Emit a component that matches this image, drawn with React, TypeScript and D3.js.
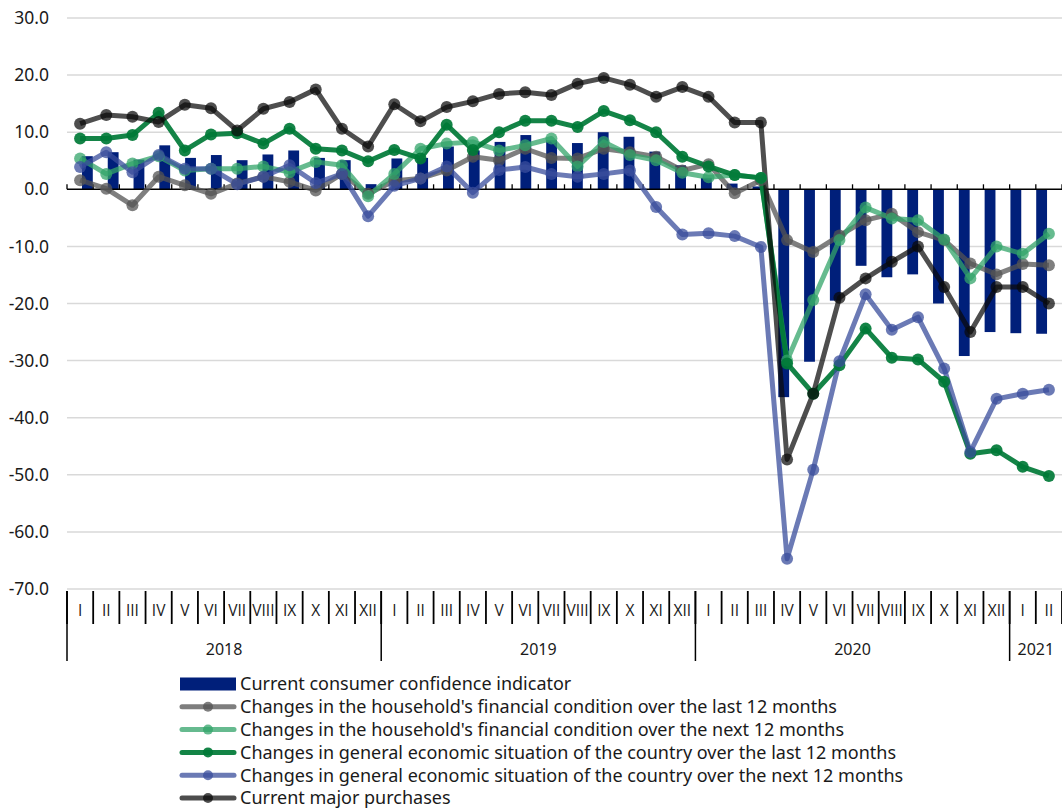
import { useMemo } from 'react';
import * as d3 from 'd3';

const romans = ['I', 'II', 'III', 'IV', 'V', 'VI', 'VII', 'VIII', 'IX', 'X', 'XI', 'XII'];
const monthLabels = [...romans, ...romans, ...romans, 'I', 'II'];
const years = [
  { label: '2018', start: 0, end: 12 },
  { label: '2019', start: 12, end: 24 },
  { label: '2020', start: 24, end: 36 },
  { label: '2021', start: 36, end: 38 },
];
const yTicks = [30, 20, 10, 0, -10, -20, -30, -40, -50, -60, -70];

const confidence = [
  5.8, 6.5, 5.2, 7.7, 5.5, 6.0, 5.1, 6.1, 6.8, 5.5, 5.1, 0.9,
  5.4, 5.5, 7.5, 6.8, 8.3, 9.5, 8.6, 8.1, 10.0, 9.2, 6.6, 4.2,
  2.0, 1.0, 0.5, -36.4, -30.2, -19.5, -13.4, -15.4, -14.9, -20.0, -29.2, -25.0,
  -25.2, -25.3,
];
const householdLast = [
  1.6, 0.1, -2.8, 2.2, 0.7, -0.8, 1.0, 2.2, 1.3, -0.2, 2.7, -0.8,
  1.5, 1.9, 3.3, 5.7, 5.1, 7.1, 5.5, 5.4, 7.1, 6.5, 5.7, 3.3,
  4.4, -0.7, 1.6, -8.9, -11.0, -8.1, -5.4, -4.3, -7.5, -8.9, -13.0, -14.9,
  -13.1, -13.3,
];
const householdNext = [
  5.4, 2.7, 4.5, 5.8, 3.3, 3.6, 3.6, 4.0, 3.0, 4.8, 4.2, -1.2,
  2.7, 7.1, 8.0, 8.3, 6.8, 7.7, 8.9, 4.0, 8.3, 6.0, 5.1, 2.9,
  2.1, 2.5, 2.0, -30.0, -19.4, -8.9, -3.2, -5.1, -5.4, -8.8, -15.6, -10.0,
  -11.3, -7.8,
];
const economyLast = [
  8.9, 8.9, 9.5, 13.4, 6.8, 9.6, 9.8, 8.0, 10.6, 7.1, 6.8, 4.9,
  6.9, 5.4, 11.3, 6.9, 10.0, 12.0, 12.0, 10.9, 13.7, 12.1, 10.0, 5.7,
  4.0, 2.5, 2.0, -30.5, -35.8, -30.8, -24.4, -29.5, -29.8, -33.7, -46.3, -45.7,
  -48.6, -50.2,
];
const economyNext = [
  3.9, 6.5, 3.0, 6.0, 3.6, 3.6, 0.9, 2.2, 4.2, 1.1, 2.7, -4.7,
  0.6, 1.9, 4.0, -0.6, 3.4, 3.9, 2.7, 2.2, 2.7, 3.3, -3.1, -7.9,
  -7.7, -8.2, -10.1, -64.7, -49.1, -30.1, -18.4, -24.6, -22.4, -31.4, -46.0, -36.7,
  -35.8, -35.1,
];
const majorPurchases = [
  11.5, 13.0, 12.7, 11.8, 14.8, 14.2, 10.3, 14.1, 15.3, 17.5, 10.6, 7.5,
  14.9, 11.9, 14.4, 15.4, 16.7, 17.0, 16.5, 18.5, 19.5, 18.3, 16.2, 17.9,
  16.2, 11.7, 11.7, -47.3, -35.8, -19.0, -15.6, -12.7, -10.0, -17.1, -25.0, -17.1,
  -17.1, -20.0,
];

const barLabel = 'Current consumer confidence indicator';
const barColor = '#001f7a';

const lineSeries = [
  { name: "Changes in the household's financial condition over the last 12 months", values: householdLast, color: '#545454', opacity: 0.75 },
  { name: "Changes in the household's financial condition over the next 12 months", values: householdNext, color: '#33a46a', opacity: 0.75 },
  { name: 'Changes in general economic situation of the country over the last 12 months', values: economyLast, color: '#007a37', opacity: 0.92 },
  { name: 'Changes in general economic situation of the country over the next 12 months', values: economyNext, color: '#3a4e9c', opacity: 0.75 },
  { name: 'Current major purchases', values: majorPurchases, color: '#0a0a0a', opacity: 0.72 },
];

const W = 1062;
const H = 810;
const left = 67;
const right = 1062;
const top = 18;
const bottom = 589;
const font = '"Noto Sans", "Open Sans", sans-serif';

export default function App() {
  const idx = d3.range(monthLabels.length);
  const x = useMemo(() => d3.scaleBand<number>().domain(idx).range([left, right]).padding(0), []);
  const xBar = useMemo(() => d3.scaleBand<number>().domain(idx).range([left, right]).padding(0.58), []);
  const y = useMemo(() => d3.scaleLinear().domain([-70, 30]).range([bottom, top]), []);
  const bw = x.bandwidth();
  const cx = (i: number) => (x(i) ?? 0) + bw / 2;

  const line = d3.line<number>().x((_, i) => cx(i)).y((d) => y(d));

  const legendY = (i: number) => 684 + i * 22.8;

  return (
    <svg width={W} height={H} style={{ position: 'absolute', left: 0, top: 0 }} fontFamily={font}>
      {/* grid + y labels */}
      {yTicks.map((t) => (
        <g key={t}>
          {t !== 0 && (
            <line x1={left} x2={right} y1={y(t)} y2={y(t)} stroke="#d9d9d9" strokeWidth={1.5} />
          )}
          <text x={49} y={y(t)} dy="0.35em" textAnchor="end" fontSize={17.5} fill="#1a1a1a">
            {t.toFixed(1)}
          </text>
        </g>
      ))}

      {/* bars */}
      {confidence.map((v, i) => (
        <rect
          key={i}
          x={xBar(i)}
          width={xBar.bandwidth()}
          y={Math.min(y(v), y(0))}
          height={Math.abs(y(v) - y(0))}
          fill={barColor}
        />
      ))}

      {/* zero axis */}
      <line x1={left} x2={right} y1={y(0)} y2={y(0)} stroke="#000" strokeWidth={1.5} />
      {d3.range(monthLabels.length + 1).map((i) => (
        <line key={i} x1={left + i * bw} x2={left + i * bw} y1={y(0)} y2={y(0) - 5} stroke="#000" strokeWidth={1.3} />
      ))}

      {/* lines */}
      {lineSeries.map((s) => (
        <g key={s.name} opacity={s.opacity}>
          <path d={line(s.values) ?? ''} fill="none" stroke={s.color} strokeWidth={5} strokeLinejoin="round" />
        </g>
      ))}
      {lineSeries.map((s) => (
        <g key={s.name + 'm'}>
          {s.values.map((v, i) => (
            <circle key={i} cx={cx(i)} cy={y(v)} r={6} fill={s.color} opacity={s.opacity} />
          ))}
        </g>
      ))}

      {/* month axis */}
      {d3.range(monthLabels.length + 1).map((i) => (
        <line key={i} x1={left + i * bw} x2={left + i * bw} y1={591} y2={624} stroke="#000" strokeWidth={1.8} />
      ))}
      {monthLabels.map((m, i) => (
        <text key={i} x={cx(i)} y={611} dy="0.35em" textAnchor="middle" fontSize={15.5} fill="#1a1a1a" fontFamily='"Open Sans", sans-serif'>
          {m}
        </text>
      ))}
      {years.map((yr) => (
        <g key={yr.label}>
          <line x1={left + yr.start * bw} x2={left + yr.start * bw} y1={591} y2={661} stroke="#000" strokeWidth={1.5} />
          <text x={left + ((yr.start + yr.end) / 2) * bw} y={649} dy="0.35em" textAnchor="middle" fontSize={16} fill="#1a1a1a">
            {yr.label}
          </text>
        </g>
      ))}

      {/* legend */}
      <g>
        <rect x={180} y={legendY(0) - 6.5} width={56} height={13} fill={barColor} />
        <text x={240} y={legendY(0)} dy="0.35em" fontSize={18} fill="#1a1a1a">{barLabel}</text>
        {lineSeries.map((s, i) => (
          <g key={s.name}>
            <line x1={182} x2={234} y1={legendY(i + 1)} y2={legendY(i + 1)} stroke={s.color} strokeWidth={5} strokeLinecap="round" opacity={s.opacity} />
            <circle cx={208} cy={legendY(i + 1)} r={5} fill={s.color} opacity={s.opacity} />
            <text x={240} y={legendY(i + 1)} dy="0.35em" fontSize={18} fill="#1a1a1a">{s.name}</text>
          </g>
        ))}
      </g>
    </svg>
  );
}
